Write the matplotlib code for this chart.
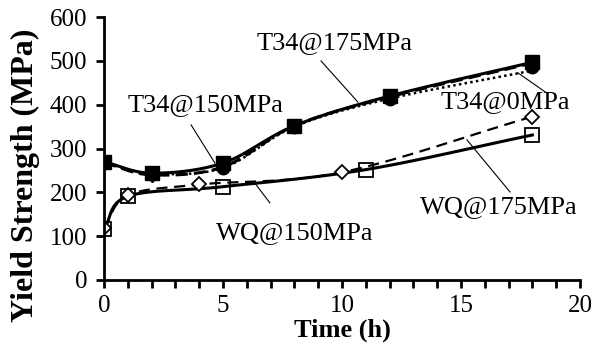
import numpy as np
import matplotlib
matplotlib.use('Agg')
import matplotlib.pyplot as plt

plt.rcParams['font.family'] = 'Liberation Serif'

# yield strength vs ageing time
t34_time = [0, 2, 5, 8, 12, 18]
t34_150 = [270, 244, 267, 352, 420, 497]
t34_175 = [268, 240, 258, 352, 418, 495]
t34_0 = [268, 243, 256, 350, 414, 486]
t34_0_line_end = 478

wq150_time = [0, 1, 5, 11, 18]
wq150 = [117, 191, 213, 252, 331]
wq175_time = [0, 1, 4, 10, 18]
wq175 = [118, 193, 218, 246, 373]


def smooth(x, y, n=30):
    # Catmull-Rom curve through the points, like a smoothed spreadsheet line
    p = np.column_stack([x, y]).astype(float)
    p = np.vstack([2 * p[0] - p[1], p, 2 * p[-1] - p[-2]])
    out = []
    s = np.linspace(0, 1, n)[:, None]
    for i in range(1, len(p) - 2):
        p0, p1, p2, p3 = p[i - 1], p[i], p[i + 1], p[i + 2]
        seg = 0.5 * ((2 * p1) + (-p0 + p2) * s + (2 * p0 - 5 * p1 + 4 * p2 - p3) * s ** 2
                     + (-p0 + 3 * p1 - 3 * p2 + p3) * s ** 3)
        out.append(seg)
    c = np.vstack(out)
    return c[:, 0], c[:, 1]


fig = plt.figure(figsize=(5.93, 3.5), dpi=100)
ax = fig.add_axes([0.1754, 0.2, 0.8026, 0.751])

lw = 2.2
ax.plot(*smooth(t34_time, t34_150), color='black', lw=lw)
ax.plot(*smooth(t34_time, t34_175), color='black', lw=lw, ls=(0, (4, 2)))
ax.plot(*smooth(t34_time, t34_0[:-1] + [t34_0_line_end]), color='black', lw=1.8, ls=(0, (1, 1.3)))
ax.plot(*smooth(wq150_time, wq150), color='black', lw=lw)
ax.plot(*smooth(wq175_time, wq175), color='black', lw=1.6, ls=(0, (5, 3)))

ax.plot(t34_time, t34_0, 'o', color='black', ms=9)
ax.plot(t34_time, t34_175, 'D', color='black', ms=7.5)
ax.plot(t34_time, t34_150, 's', color='black', ms=10)
ax.plot(wq175_time, wq175, 'D', color='black', mfc='white', ms=7, mew=1.3)
ax.plot(wq150_time, wq150, 's', color='black', mfc='none', ms=10, mew=1.3)

fs = 19
labels = [
    ('T34@175MPa', (9.7, 541), (9.12, 500), (10.67, 406)),
    ('T34@150MPa', (4.28, 400), (3.66, 354), (4.66, 267)),
    ('T34@0MPa', (16.85, 406), (17.39, 473), (18.6, 427)),
    ('WQ@150MPa', (8.0, 107), (6.34, 221), (6.97, 176)),
    ('WQ@175MPa', (16.6, 167), (15.25, 320), (17.06, 201)),
]
for txt, pos, a, b in labels:
    ax.text(pos[0], pos[1], txt, fontsize=fs, ha='center', va='center')
    ax.plot([a[0], b[0]], [a[1], b[1]], color='black', lw=0.8)

ax.set_xlim(0, 20)
ax.set_ylim(0, 600)
ax.set_xticks([0, 5, 10, 15, 20])
ax.set_xticks(range(21), minor=True)
ax.set_yticks(range(0, 601, 100))
ax.tick_params(axis='both', which='both', direction='out', length=6, width=2, labelsize=18)
ax.tick_params(axis='x', which='major', pad=5)
ax.tick_params(axis='y', which='major', pad=6)
ax.tick_params(axis='y', which='minor', length=0)
for side in ['top', 'right']:
    ax.spines[side].set_visible(False)
for side in ['left', 'bottom']:
    ax.spines[side].set_linewidth(2)

ax.set_xlabel('Time (h)', fontsize=19, fontweight='bold')
ax.xaxis.set_label_coords(0.5, -0.148)
ax.set_ylabel('Yield Strength (MPa)', fontsize=23, fontweight='bold')
ax.yaxis.set_label_coords(-0.135, 0.4)

fig.savefig('out.png', dpi=100)
